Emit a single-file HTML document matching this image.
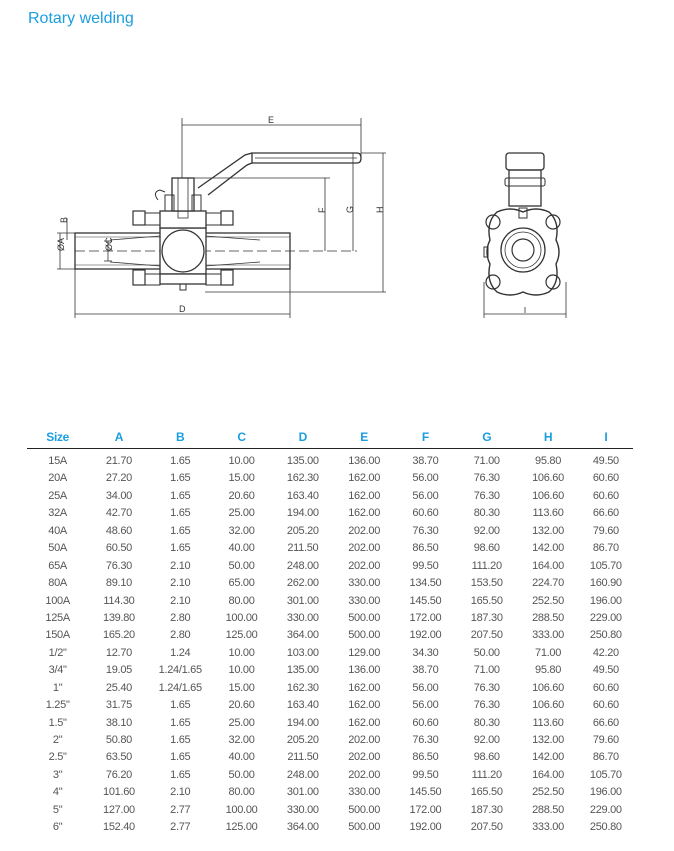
<!DOCTYPE html>
<html><head><meta charset="utf-8"><style>
body{margin:0;width:674px;height:851px;background:#fff;position:relative;overflow:hidden;font-family:"Liberation Sans",sans-serif}
.t{position:absolute;left:28px;top:10px;font-size:16px;color:#1a9ee0}
table{position:absolute;left:27px;top:426px;border-collapse:collapse;table-layout:fixed;width:606px}
td,th{text-align:center;padding:0;font-size:11px;color:#555;letter-spacing:-0.3px;height:17.43px;line-height:17.43px;white-space:nowrap}
th{color:#1a9ee0;font-size:12px;font-weight:bold;height:22px;line-height:22px;border-bottom:1.5px solid #222}
tr.f td{padding-top:4px}
</style></head><body>
<div class="t">Rotary welding</div>
<svg width="674" height="420" style="position:absolute;left:0;top:0" fill="none" stroke="#333" stroke-width="1" font-family="Liberation Sans" font-size="9">
<line x1="182" y1="118" x2="182" y2="250" stroke-width="0.8"/>
<line x1="361" y1="118" x2="361" y2="160" stroke-width="0.8"/>
<line x1="182" y1="125" x2="361" y2="125" stroke-width="0.8"/>
<text x="268" y="123" fill="#333" stroke="none">E</text>
<path d="M252 153 H357 Q361 153 361 158 Q361 163 357 163 H252 Z" stroke-width="1.3"/>
<line x1="255" y1="158" x2="357" y2="158" stroke-width="0.7"/>
<path d="M252 153 L245 155 L198 188 M252 163 L247 165 L208 195" stroke-width="1.3"/>
<line x1="361" y1="153" x2="386" y2="153" stroke-width="0.8"/>
<line x1="383" y1="153" x2="383" y2="292" stroke-width="0.8"/>
<line x1="205" y1="292" x2="386" y2="292" stroke-width="0.8"/>
<text x="380" y="216" fill="#333" stroke="none" transform="rotate(-90 380 213)">H</text>
<line x1="353" y1="153" x2="353" y2="251" stroke-width="0.8"/>
<text x="350" y="216" fill="#333" stroke="none" transform="rotate(-90 350 213)">G</text>
<line x1="190" y1="178" x2="330" y2="178" stroke-width="0.8"/>
<line x1="325" y1="178" x2="325" y2="251" stroke-width="0.8"/>
<text x="322" y="216" fill="#333" stroke="none" transform="rotate(-90 322 213)">F</text>
<line x1="75" y1="251" x2="357" y2="251" stroke-dasharray="10 4" stroke-width="0.8"/>
<rect x="75" y="233" width="215" height="36" stroke-width="1.3"/>
<path d="M75 237 H290 M75 265 H290" stroke-width="0.5"/>
<path d="M110 240 L160 236 M110 262 L160 266 M205 236 L260 240 M205 266 L260 262" stroke-width="0.8"/>
<rect x="160" y="228" width="46" height="46" fill="#fff" stroke-width="1.3"/>
<circle cx="183" cy="251" r="21" fill="#fff" stroke-width="1.3"/>
<rect x="160" y="211" width="46" height="17" fill="#fff" stroke-width="1.3"/>
<rect x="160" y="274" width="46" height="10" fill="#fff" stroke-width="1.3"/>
<rect x="172" y="178" width="22" height="33" fill="#fff" stroke-width="1.3"/>
<rect x="178" y="178" width="10" height="40" stroke-width="0.8"/>
<rect x="165" y="195" width="9" height="16" stroke-width="1"/><rect x="192" y="195" width="9" height="16" stroke-width="1"/>
<path d="M158 200 Q152 192 160 190 L165 192" stroke-width="1"/>
<rect x="133" y="211" width="12" height="14" stroke-width="1.2"/><rect x="145" y="213" width="15" height="12" stroke-width="1"/>
<rect x="221" y="211" width="12" height="14" stroke-width="1.2"/><rect x="206" y="213" width="15" height="12" stroke-width="1"/>
<rect x="133" y="270" width="12" height="15" stroke-width="1.2"/><rect x="145" y="274" width="15" height="11" stroke-width="1"/>
<rect x="221" y="270" width="12" height="15" stroke-width="1.2"/><rect x="206" y="274" width="15" height="11" stroke-width="1"/>
<path d="M180 284 V290 H186 V284" stroke-width="1"/>
<line x1="75" y1="269" x2="75" y2="318" stroke-width="0.8"/>
<line x1="290" y1="269" x2="290" y2="318" stroke-width="0.8"/>
<line x1="75" y1="314" x2="290" y2="314" stroke-width="0.8"/>
<text x="179" y="312" fill="#333" stroke="none">D</text>
<line x1="57" y1="233" x2="75" y2="233" stroke-width="0.8"/>
<line x1="57" y1="269" x2="75" y2="269" stroke-width="0.8"/>
<line x1="60" y1="233" x2="60" y2="269" stroke-width="0.8"/>
<text x="57" y="258" fill="#333" stroke="none" transform="rotate(-90 57 251)">ØA</text>
<line x1="67" y1="218" x2="67" y2="240" stroke-width="0.8"/>
<text x="64" y="226" fill="#333" stroke="none" transform="rotate(-90 64 223)">B</text>
<line x1="104" y1="241" x2="112" y2="241" stroke-width="0.8"/>
<line x1="104" y1="261" x2="112" y2="261" stroke-width="0.8"/>
<line x1="108" y1="241" x2="108" y2="261" stroke-width="0.8"/>
<text x="105" y="258" fill="#333" stroke="none" transform="rotate(-90 105 251)">ØC</text>
<rect x="506" y="153" width="38" height="17" rx="3" stroke-width="1.3"/>
<rect x="509" y="170" width="32" height="36" stroke-width="1.3"/>
<rect x="505" y="178" width="40" height="8" rx="2" stroke-width="1"/>
<path d="M497 212 Q486 222 490 240 Q484 252 490 264 Q486 282 497 292 Q510 298 523 292 Q536 298 549 292 Q560 282 556 264 Q562 252 556 240 Q560 222 549 212 Q536 206 523 212 Q510 206 497 212 Z" stroke-width="1.4"/>
<circle cx="493" cy="222" r="7" stroke-width="1.2"/><circle cx="553" cy="222" r="7" stroke-width="1.2"/>
<circle cx="493" cy="282" r="7" stroke-width="1.2"/><circle cx="553" cy="282" r="7" stroke-width="1.2"/>
<circle cx="523" cy="250" r="22" stroke-width="1.3"/>
<circle cx="523" cy="250" r="18" stroke-width="0.8"/>
<circle cx="523" cy="250" r="11" stroke-width="1.2"/>
<rect x="519" y="208" width="8" height="10" stroke-width="1"/>
<rect x="484" y="247" width="4" height="10" stroke-width="1"/>
<line x1="484" y1="282" x2="484" y2="318" stroke-width="0.8"/>
<line x1="566" y1="282" x2="566" y2="318" stroke-width="0.8"/>
<line x1="484" y1="314" x2="566" y2="314" stroke-width="0.8"/>
<line x1="525" y1="307" x2="525" y2="313" stroke-width="0.8"/>
</svg>
<table>
<colgroup><col style="width:61.3px"><col style="width:61.3px"><col style="width:61.3px"><col style="width:61.3px"><col style="width:61.3px"><col style="width:61.3px"><col style="width:61.3px"><col style="width:61.3px"><col style="width:61.3px"><col style="width:54.3px"></colgroup>
<tr><th>Size</th><th>A</th><th>B</th><th>C</th><th>D</th><th>E</th><th>F</th><th>G</th><th>H</th><th>I</th></tr>
<tr class="f"><td>15A</td><td>21.70</td><td>1.65</td><td>10.00</td><td>135.00</td><td>136.00</td><td>38.70</td><td>71.00</td><td>95.80</td><td>49.50</td></tr>
<tr><td>20A</td><td>27.20</td><td>1.65</td><td>15.00</td><td>162.30</td><td>162.00</td><td>56.00</td><td>76.30</td><td>106.60</td><td>60.60</td></tr>
<tr><td>25A</td><td>34.00</td><td>1.65</td><td>20.60</td><td>163.40</td><td>162.00</td><td>56.00</td><td>76.30</td><td>106.60</td><td>60.60</td></tr>
<tr><td>32A</td><td>42.70</td><td>1.65</td><td>25.00</td><td>194.00</td><td>162.00</td><td>60.60</td><td>80.30</td><td>113.60</td><td>66.60</td></tr>
<tr><td>40A</td><td>48.60</td><td>1.65</td><td>32.00</td><td>205.20</td><td>202.00</td><td>76.30</td><td>92.00</td><td>132.00</td><td>79.60</td></tr>
<tr><td>50A</td><td>60.50</td><td>1.65</td><td>40.00</td><td>211.50</td><td>202.00</td><td>86.50</td><td>98.60</td><td>142.00</td><td>86.70</td></tr>
<tr><td>65A</td><td>76.30</td><td>2.10</td><td>50.00</td><td>248.00</td><td>202.00</td><td>99.50</td><td>111.20</td><td>164.00</td><td>105.70</td></tr>
<tr><td>80A</td><td>89.10</td><td>2.10</td><td>65.00</td><td>262.00</td><td>330.00</td><td>134.50</td><td>153.50</td><td>224.70</td><td>160.90</td></tr>
<tr><td>100A</td><td>114.30</td><td>2.10</td><td>80.00</td><td>301.00</td><td>330.00</td><td>145.50</td><td>165.50</td><td>252.50</td><td>196.00</td></tr>
<tr><td>125A</td><td>139.80</td><td>2.80</td><td>100.00</td><td>330.00</td><td>500.00</td><td>172.00</td><td>187.30</td><td>288.50</td><td>229.00</td></tr>
<tr><td>150A</td><td>165.20</td><td>2.80</td><td>125.00</td><td>364.00</td><td>500.00</td><td>192.00</td><td>207.50</td><td>333.00</td><td>250.80</td></tr>
<tr><td>1/2"</td><td>12.70</td><td>1.24</td><td>10.00</td><td>103.00</td><td>129.00</td><td>34.30</td><td>50.00</td><td>71.00</td><td>42.20</td></tr>
<tr><td>3/4"</td><td>19.05</td><td>1.24/1.65</td><td>10.00</td><td>135.00</td><td>136.00</td><td>38.70</td><td>71.00</td><td>95.80</td><td>49.50</td></tr>
<tr><td>1"</td><td>25.40</td><td>1.24/1.65</td><td>15.00</td><td>162.30</td><td>162.00</td><td>56.00</td><td>76.30</td><td>106.60</td><td>60.60</td></tr>
<tr><td>1.25"</td><td>31.75</td><td>1.65</td><td>20.60</td><td>163.40</td><td>162.00</td><td>56.00</td><td>76.30</td><td>106.60</td><td>60.60</td></tr>
<tr><td>1.5"</td><td>38.10</td><td>1.65</td><td>25.00</td><td>194.00</td><td>162.00</td><td>60.60</td><td>80.30</td><td>113.60</td><td>66.60</td></tr>
<tr><td>2"</td><td>50.80</td><td>1.65</td><td>32.00</td><td>205.20</td><td>202.00</td><td>76.30</td><td>92.00</td><td>132.00</td><td>79.60</td></tr>
<tr><td>2.5"</td><td>63.50</td><td>1.65</td><td>40.00</td><td>211.50</td><td>202.00</td><td>86.50</td><td>98.60</td><td>142.00</td><td>86.70</td></tr>
<tr><td>3"</td><td>76.20</td><td>1.65</td><td>50.00</td><td>248.00</td><td>202.00</td><td>99.50</td><td>111.20</td><td>164.00</td><td>105.70</td></tr>
<tr><td>4"</td><td>101.60</td><td>2.10</td><td>80.00</td><td>301.00</td><td>330.00</td><td>145.50</td><td>165.50</td><td>252.50</td><td>196.00</td></tr>
<tr><td>5"</td><td>127.00</td><td>2.77</td><td>100.00</td><td>330.00</td><td>500.00</td><td>172.00</td><td>187.30</td><td>288.50</td><td>229.00</td></tr>
<tr><td>6"</td><td>152.40</td><td>2.77</td><td>125.00</td><td>364.00</td><td>500.00</td><td>192.00</td><td>207.50</td><td>333.00</td><td>250.80</td></tr>
</table>
</body></html>
